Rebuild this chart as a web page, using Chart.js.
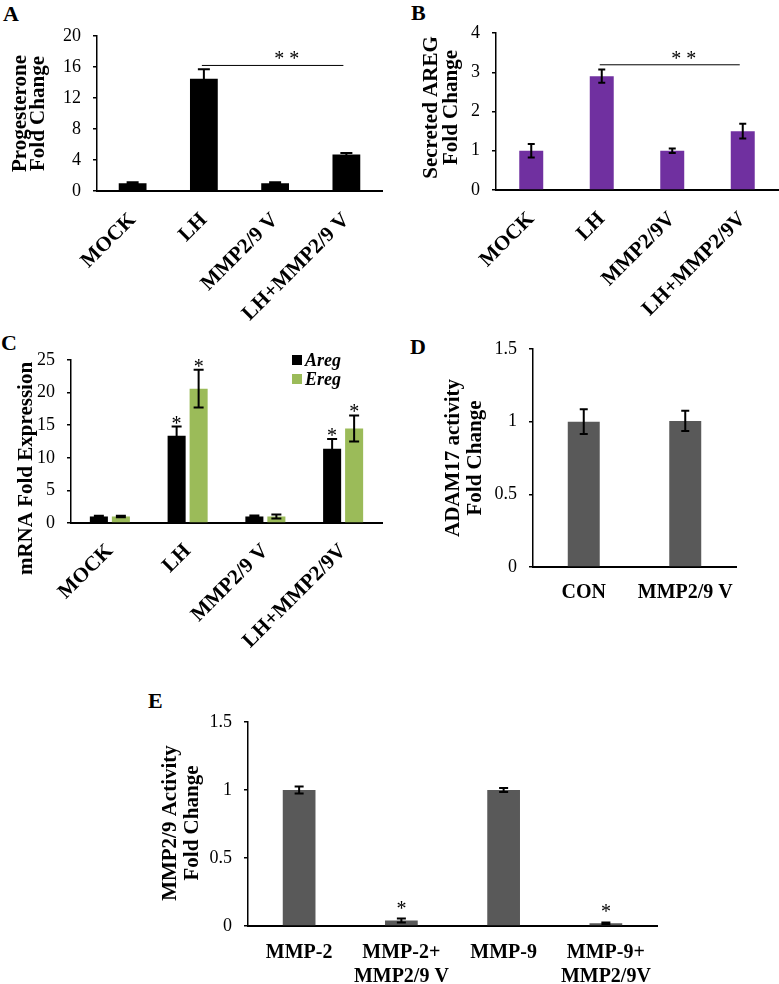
<!DOCTYPE html>
<html>
<head>
<meta charset="utf-8">
<script src="https://cdn.jsdelivr.net/npm/chart.js@4.4.0/dist/chart.umd.min.js"></script>
<style>
body { margin: 0; background: #fff; width: 779px; height: 984px; position: relative; overflow: hidden; }
canvas { position: absolute; }
.tag { position: absolute; font: bold 22px "Liberation Serif", serif; line-height: 1; color: #000; }
</style>
</head>
<body>
<div class="tag" style="left:3px;top:3px">A</div>
<div class="tag" style="left:411px;top:2px">B</div>
<div class="tag" style="left:1px;top:332px">C</div>
<div class="tag" style="left:410px;top:336px">D</div>
<div class="tag" style="left:148px;top:690px">E</div>

<canvas id="chart-a" width="390" height="330" style="left:0;top:0"></canvas>
<canvas id="chart-b" width="389" height="330" style="left:390px;top:0"></canvas>
<canvas id="chart-c" width="390" height="365" style="left:0;top:300px"></canvas>
<canvas id="chart-d" width="389" height="320" style="left:390px;top:300px"></canvas>
<canvas id="chart-e" width="560" height="304" style="left:130px;top:680px"></canvas>

<script>
/**
 * Chart data
 */
const progesteroneLabels = ['MOCK', 'LH', 'MMP2/9 V', 'LH+MMP2/9 V'];
const progesteroneValues = [1.0, 14.5, 1.0, 4.7];
const progesteroneErrors = [0.12, 1.2, 0.12, 0.2];
const progesteroneSig = { from: 1, to: 3, value: 16.2, label: '* *' };

const aregLabels = ['MOCK', 'LH', 'MMP2/9V', 'LH+MMP2/9V'];
const aregValues = [1.0, 2.9, 1.0, 1.5];
const aregErrors = [0.17, 0.17, 0.06, 0.19];
const aregSig = { from: 1, to: 3, value: 3.19, label: '* *' };

const mrnaLabels = ['MOCK', 'LH', 'MMP2/9 V', 'LH+MMP2/9V'];
const mrnaAregValues = [1.0, 13.4, 1.0, 11.4];
const mrnaAregErrors = [0.1, 1.4, 0.15, 1.5];
const mrnaEregValues = [1.0, 20.6, 1.0, 14.5];
const mrnaEregErrors = [0.1, 2.9, 0.3, 2.0];
const mrnaStars = ['', '*', '', '*'];

const adamLabels = ['CON', 'MMP2/9 V'];
const adamValues = [1.0, 1.005];
const adamErrors = [0.085, 0.07];

const mmpLabels = ['MMP-2', ['MMP-2+', 'MMP2/9 V'], 'MMP-9', ['MMP-9+', 'MMP2/9V']];
const mmpValues = [1.0, 0.04, 1.0, 0.02];
const mmpErrors = [0.025, 0.015, 0.015, 0.006];
const mmpStars = ['', '*', '', '*'];

const SERIF = '"Liberation Serif", "Times New Roman", serif';
Chart.defaults.font.family = SERIF;
Chart.defaults.color = '#000';

/**
 * Plugins
 */
const errorBarPlugin = {
    id: 'errorBars',
    afterDatasetsDraw(chart, args, opts) {
        const ctx = chart.ctx;
        const yScale = chart.scales.y;
        const cap = opts.cap || 8;
        chart.data.datasets.forEach((ds, i) => {
            if (!ds.errors) return;
            const meta = chart.getDatasetMeta(i);
            meta.data.forEach((bar, j) => {
                const v = ds.data[j];
                const e = ds.errors[j];
                const top = yScale.getPixelForValue(v + e);
                const bottom = yScale.getPixelForValue(Math.max(v - e, 0));
                ctx.save();
                ctx.strokeStyle = '#000';
                ctx.lineWidth = 2;
                ctx.beginPath();
                ctx.moveTo(bar.x, top);
                ctx.lineTo(bar.x, bottom);
                ctx.moveTo(bar.x - cap / 2, top);
                ctx.lineTo(bar.x + cap / 2, top);
                ctx.moveTo(bar.x - cap / 2, bottom);
                ctx.lineTo(bar.x + cap / 2, bottom);
                ctx.stroke();
                if (ds.stars && ds.stars[j]) {
                    ctx.fillStyle = '#000';
                    ctx.font = '20px ' + SERIF;
                    ctx.textAlign = 'center';
                    ctx.textBaseline = 'alphabetic';
                    ctx.fillText(ds.stars[j], bar.x, top + (opts.starShift || 0));
                }
                ctx.restore();
            });
        });
    }
};

const sigPlugin = {
    id: 'sigLine',
    afterDatasetsDraw(chart, args, opts) {
        if (!opts.sig) return;
        const ctx = chart.ctx;
        const xs = chart.scales.x;
        const y = chart.scales.y.getPixelForValue(opts.sig.value);
        const x1 = xs.getPixelForValue(opts.sig.from) - 2;
        const x2 = xs.getPixelForValue(opts.sig.to) - 3;
        ctx.save();
        ctx.strokeStyle = '#000';
        ctx.lineWidth = 1;
        ctx.beginPath();
        ctx.moveTo(x1, y);
        ctx.lineTo(x2, y);
        ctx.stroke();
        ctx.fillStyle = '#000';
        ctx.font = '20px ' + SERIF;
        ctx.textAlign = 'center';
        ctx.textBaseline = 'alphabetic';
        ctx.fillText(opts.sig.label, x1 + (x2 - x1) * 0.6, y);
        ctx.restore();
    }
};

const yTitlePlugin = {
    id: 'yTitle',
    afterDraw(chart, args, opts) {
        if (!opts.lines) return;
        const ctx = chart.ctx;
        const area = chart.chartArea;
        const cy = (area.top + area.bottom) / 2 + (opts.dy || 0);
        ctx.save();
        ctx.fillStyle = '#000';
        ctx.font = 'bold 21px ' + SERIF;
        ctx.textAlign = 'center';
        ctx.textBaseline = 'middle';
        opts.lines.forEach((line, k) => {
            ctx.save();
            ctx.translate(opts.x[k], cy);
            ctx.rotate(-Math.PI / 2);
            ctx.fillText(line, 0, 0);
            ctx.restore();
        });
        ctx.restore();
    }
};

const legendPlugin = {
    id: 'boxLegend',
    afterDraw(chart, args, opts) {
        if (!opts.show) return;
        const ctx = chart.ctx;
        ctx.save();
        ctx.font = 'italic bold 18px ' + SERIF;
        ctx.textBaseline = 'middle';
        chart.data.datasets.forEach((ds, i) => {
            const y = opts.y + i * opts.gap;
            ctx.fillStyle = ds.backgroundColor;
            ctx.fillRect(opts.x, y - 5, 10, 10);
            ctx.fillStyle = '#000';
            ctx.fillText(ds.label, opts.x + 13, y + 1);
        });
        ctx.restore();
    }
};

/**
 * Build one panel with a fixed plot area
 */
const makePanel = (id, panel) => {
    const canvas = document.getElementById(id);
    const W = canvas.width;
    const H = canvas.height;
    const area = panel.area;
    return new Chart(canvas, {
        type: 'bar',
        data: { labels: panel.labels, datasets: panel.datasets },
        plugins: [errorBarPlugin, sigPlugin, yTitlePlugin, legendPlugin],
        options: {
            responsive: false,
            animation: false,
            layout: { padding: { left: 0, top: area.top, right: W - area.right, bottom: 0 } },
            plugins: {
                legend: { display: false },
                tooltip: { enabled: false },
                errorBars: panel.errorBars || {},
                sigLine: { sig: panel.sig },
                yTitle: panel.yTitle,
                boxLegend: panel.legend || {}
            },
            scales: {
                x: {
                    grid: { display: false, drawTicks: false },
                    border: { display: true, color: '#000', width: 2 },
                    ticks: {
                        autoSkip: false,
                        maxRotation: panel.rotation,
                        minRotation: panel.rotation,
                        padding: panel.xPadding,
                        font: { size: panel.xFont || 20, weight: 'bold', lineHeight: 1.2 },
                        color: '#000'
                    },
                    afterFit: (scale) => { scale.height = H - area.bottom; }
                },
                y: {
                    min: 0,
                    max: panel.yMax,
                    grid: { drawOnChartArea: false, drawTicks: true, tickLength: 4, color: '#000', lineWidth: 1.5 },
                    border: { display: true, color: '#000', width: 1.5 },
                    ticks: {
                        stepSize: panel.yStep,
                        padding: 12,
                        font: { size: 18 },
                        color: '#000',
                        callback: (v) => String(v)
                    },
                    afterFit: (scale) => { scale.width = area.left; }
                }
            }
        }
    });
};

// A: progesterone
makePanel('chart-a', {
    labels: progesteroneLabels,
    datasets: [{
        label: 'Progesterone',
        data: progesteroneValues,
        errors: progesteroneErrors,
        backgroundColor: '#000',
        categoryPercentage: 1,
        barPercentage: 0.39
    }],
    area: { left: 97, top: 36, right: 382, bottom: 191 },
    yMax: 20, yStep: 4, rotation: 45, xPadding: 17, xFont: 21,
    errorBars: { cap: 12 },
    sig: progesteroneSig,
    yTitle: { lines: ['Progesterone', 'Fold Change'], x: [21, 39], dy: 0 }
});

// B: secreted AREG
makePanel('chart-b', {
    labels: aregLabels,
    datasets: [{
        label: 'Secreted AREG',
        data: aregValues,
        errors: aregErrors,
        backgroundColor: '#7030A0',
        categoryPercentage: 1,
        barPercentage: 0.34
    }],
    area: { left: 106, top: 33, right: 388, bottom: 190 },
    yMax: 4, yStep: 1, rotation: 45, xPadding: 17, xFont: 21,
    errorBars: { cap: 7 },
    sig: aregSig,
    yTitle: { lines: ['Secreted AREG', 'Fold Change'], x: [42, 62], dy: -4 }
});

// C: mRNA expression
makePanel('chart-c', {
    labels: mrnaLabels,
    datasets: [{
        label: 'Areg',
        data: mrnaAregValues,
        errors: mrnaAregErrors,
        stars: mrnaStars,
        backgroundColor: '#000',
        categoryPercentage: 0.566,
        barPercentage: 0.82
    }, {
        label: 'Ereg',
        data: mrnaEregValues,
        errors: mrnaEregErrors,
        stars: mrnaStars,
        backgroundColor: '#9BBB59',
        categoryPercentage: 0.566,
        barPercentage: 0.82
    }],
    area: { left: 71, top: 60, right: 382, bottom: 223 },
    yMax: 25, yStep: 5, rotation: 45, xPadding: 16, xFont: 21,
    errorBars: { cap: 10, starShift: 3 },
    yTitle: { lines: ['mRNA Fold Expression'], x: [27], dy: 27 },
    legend: { show: true, x: 292, y: 60, gap: 19 }
});

// D: ADAM17 activity
makePanel('chart-d', {
    labels: adamLabels,
    datasets: [{
        label: 'ADAM17 activity',
        data: adamValues,
        errors: adamErrors,
        backgroundColor: '#595959',
        categoryPercentage: 1,
        barPercentage: 0.315
    }],
    area: { left: 143, top: 49, right: 346, bottom: 267 },
    yMax: 1.5, yStep: 0.5, rotation: 0, xPadding: 14,
    errorBars: { cap: 8 },
    yTitle: { lines: ['ADAM17 activity', 'Fold Change'], x: [64, 86], dy: 0 }
});

// E: MMP2/9 activity
makePanel('chart-e', {
    labels: mmpLabels,
    datasets: [{
        label: 'MMP2/9 Activity',
        data: mmpValues,
        errors: mmpErrors,
        stars: mmpStars,
        backgroundColor: '#595959',
        categoryPercentage: 1,
        barPercentage: 0.32
    }],
    area: { left: 118, top: 42, right: 527, bottom: 246 },
    yMax: 1.5, yStep: 0.5, rotation: 0, xPadding: 15,
    errorBars: { cap: 9, starShift: -4 },
    yTitle: { lines: ['MMP2/9 Activity', 'Fold Change'], x: [41, 63], dy: -1 }
});
</script>
</body>
</html>
